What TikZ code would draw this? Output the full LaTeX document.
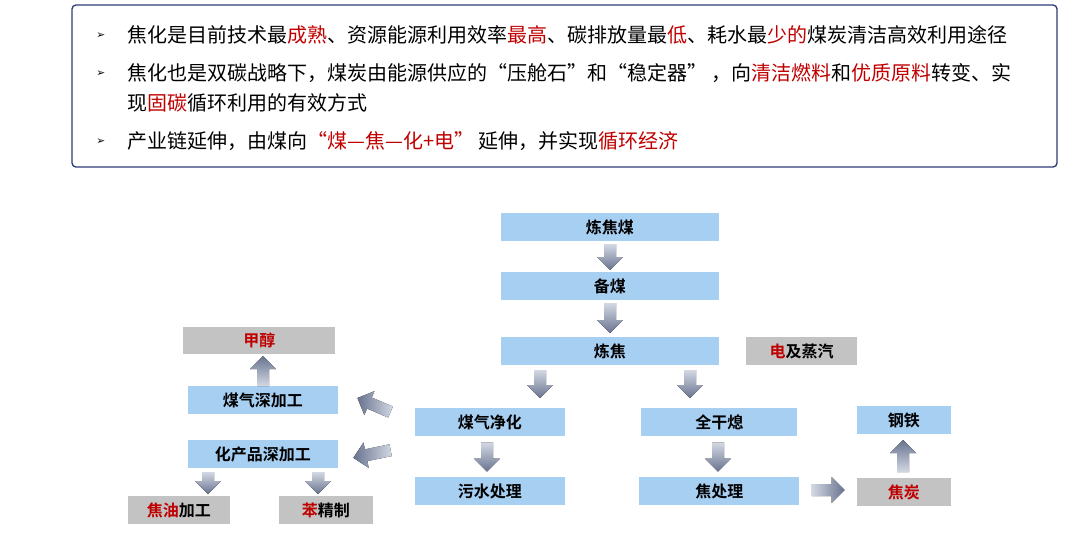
\documentclass[tikz,border=0pt]{standalone}
\usepackage{fontspec}
\newfontfamily\cjk{Noto Sans CJK SC}
\newfontfamily\cjkb{Noto Sans CJK SC Bold}
\newfontfamily\djv{DejaVu Sans}
\definecolor{fblue}{HTML}{A7CFF2}
\definecolor{fgray}{HTML}{C3C3C3}
\definecolor{rd}{HTML}{C00000}
\definecolor{frame}{HTML}{2E3A78}
\definecolor{aL}{HTML}{D3D8E3}
\definecolor{aD}{HTML}{68738F}
\newcommand{\R}[1]{\textcolor{rd}{#1}}
% block arrow: center x, center y, unit dx, unit dy, length, shading style
\newcommand\blk[6]{%
 \def\cx{#1}\def\cy{#2}\def\ux{#3}\def\uy{#4}%
 \pgfmathsetmacro\ha{#5/2}\pgfmathsetmacro\hb{#5/2-13}%
 \fill[#6]
  ({\cx+(-\ha)*\ux-(6)*\uy},{\cy+(-\ha)*\uy+(6)*\ux}) --
  ({\cx+(\hb)*\ux-(6)*\uy},{\cy+(\hb)*\uy+(6)*\ux}) --
  ({\cx+(\hb)*\ux-(13)*\uy},{\cy+(\hb)*\uy+(13)*\ux}) --
  ({\cx+(\ha)*\ux},{\cy+(\ha)*\uy}) --
  ({\cx+(\hb)*\ux-(-13)*\uy},{\cy+(\hb)*\uy+(-13)*\ux}) --
  ({\cx+(\hb)*\ux-(-6)*\uy},{\cy+(\hb)*\uy+(-6)*\ux}) --
  ({\cx+(-\ha)*\ux-(-6)*\uy},{\cy+(-\ha)*\uy+(-6)*\ux}) -- cycle;}
\begin{document}
\begin{tikzpicture}[x=0.75pt,y=-0.75pt,
  bx/.style={minimum height=21pt,inner sep=0pt,font=\cjkb\fontsize{12}{14}\selectfont,anchor=north west},
  bbox/.style={bx,fill=fblue},
  gbox/.style={bx,fill=fgray},
  sd/.style={top color=aL,bottom color=aD},
  su/.style={top color=aD,bottom color=aL},
  sl/.style={left color=aD,right color=aL},
  sr/.style={left color=aL,right color=aD},
  tl/.style={anchor=west,font=\cjk\fontsize{15}{18}\selectfont,inner sep=0pt},
  bul/.style={anchor=west,font=\djv\fontsize{8}{10}\selectfont,inner sep=0pt}]
\useasboundingbox (0,0) rectangle (1080,544);
\draw[frame,line width=1pt,rounded corners=3pt] (72,5) rectangle (1057,167);
\node[bul] (b1) at (96,36) {➢};
\node[bul] (b2) at (96,74) {➢};
\node[bul] (b3) at (96,142) {➢};
\node[tl] (t1) at (127,35) {焦化是目前技术最\R{成熟}、资源能源利用效率\R{最高}、碳排放量最\R{低}、耗水最\R{少的}煤炭清洁高效利用途径};
\node[tl] (t2) at (127,73) {焦化也是双碳战略下，煤炭由能源供应的“压舱石”和“稳定器” ，向\R{清洁燃料}和\R{优质原料}转变、实};
\node[tl] (t3) at (127,103) {现\R{固碳}循环利用的有效方式};
\node[tl] (t4) at (127,141) {产业链延伸，由煤向\R{“煤—焦—化+电”} 延伸，并实现\R{循环经济}};
% boxes
\node[bbox,minimum width=163pt] (lj) at (501,213) {炼焦煤};
\node[bbox,minimum width=163pt] (bm) at (501,272) {备煤};
\node[bbox,minimum width=163pt] (ljj) at (501,337) {炼焦};
\node[gbox,minimum width=83pt] (dq) at (746,337) {\R{电}及蒸汽};
\node[bbox,minimum width=112pt] (mq) at (415,408) {煤气净化};
\node[bbox,minimum width=117pt] (qg) at (641,408) {全干熄};
\node[bbox,minimum width=112pt] (ws) at (415,477) {污水处理};
\node[bbox,minimum width=120pt] (jcl) at (639,477) {焦处理};
\node[bbox,minimum width=70pt] (gt) at (857,406) {钢铁};
\node[gbox,minimum width=70pt] (jt) at (857,478) {\R{焦炭}};
\node[gbox,minimum width=114pt,minimum height=20pt] (jc) at (183,327) {\R{甲醇}};
\node[bbox,minimum width=112pt] (mqs) at (188,386) {煤气深加工};
\node[bbox,minimum width=112pt] (hcp) at (188,440) {化产品深加工};
\node[gbox,minimum width=76pt] (jy) at (128,496) {\R{焦油}加工};
\node[gbox,minimum width=70pt] (bj) at (279,496) {\R{苯}精制};
% block arrows
\blk{610}{257}{0}{1}{26}{sd}
\blk{610}{318}{0}{1}{30}{sd}
\blk{540}{384}{0}{1}{28}{sd}
\blk{690}{384}{0}{1}{28}{sd}
\blk{487}{457}{0}{1}{29}{sd}
\blk{718}{457}{0}{1}{29}{sd}
\blk{828}{490}{1}{0}{33}{sr}
\blk{903}{456}{0}{-1}{32}{su}
\blk{263}{371}{0}{-1}{30}{su}
\blk{208}{483}{0}{1}{22}{sd}
\blk{318}{483}{0}{1}{22}{sd}
\blk{374}{405}{-0.92}{-0.39}{36}{sl}
\blk{372}{454}{-0.98}{0.2}{38}{sl}
\end{tikzpicture}
\end{document}
